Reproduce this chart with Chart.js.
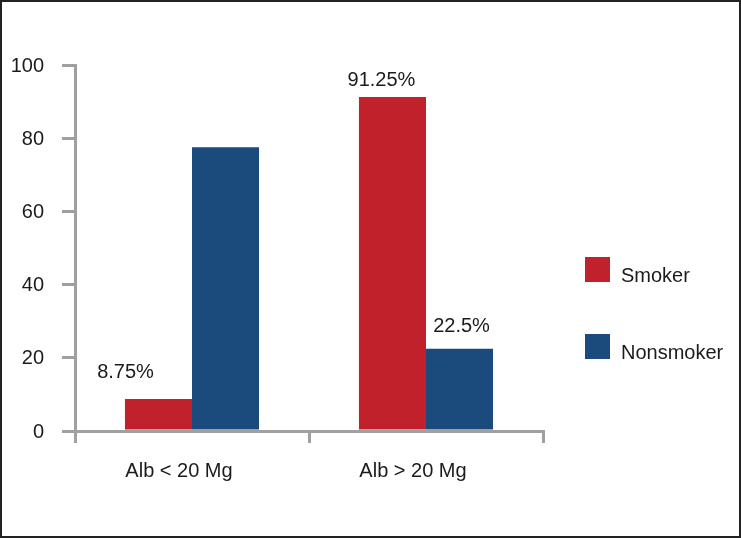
<!DOCTYPE html>
<html>
<head>
<meta charset="utf-8">
<script src="https://cdn.jsdelivr.net/npm/chart.js@4"></script>
<style>
  html, body { margin: 0; padding: 0; background: #fff; }
  #wrap { width: 741px; height: 538px; position: relative; }
</style>
</head>
<body>
<div id="wrap"><canvas id="albChart" width="741" height="538"></canvas></div>
<script>
// dữ liệu
const categories = ['Alb < 20 Mg', 'Alb > 20 Mg'];
const smoker = [8.75, 91.25];
const nonsmoker = [77.5, 22.5];
const smokerLabels = ['8.75%', '91.25%'];
const nonsmokerLabels = [null, '22.5%'];
const yTicks = [0, 20, 40, 60, 80, 100];

const textColor = '#1e1a1b';
const axisColor = '#a0a0a0';
const font = { family: '"Liberation Sans", Arial, sans-serif', size: 20 };

// vị trí nhãn giá trị so với đỉnh cột (dx, dy)
const labelOffsets = [
    [[-33, -21], [-11, -11]],
    [null, [2, -17]]
];

// khung viền ngoài
const framePlugin = {
    id: 'frame',
    afterDraw(chart) {
        const ctx = chart.ctx;
        ctx.save();
        ctx.strokeStyle = '#222';
        ctx.lineWidth = 2;
        ctx.strokeRect(1, 1, chart.width - 2, chart.height - 2);
        ctx.restore();
    }
};

// nhãn phần trăm trên cột
const valueLabelPlugin = {
    id: 'valueLabels',
    afterDatasetsDraw(chart) {
        const ctx = chart.ctx;
        const allLabels = [smokerLabels, nonsmokerLabels];
        ctx.save();
        ctx.font = `${font.size}px ${font.family}`;
        ctx.fillStyle = textColor;
        ctx.textAlign = 'center';
        ctx.textBaseline = 'alphabetic';
        chart.data.datasets.forEach((ds, di) => {
            const meta = chart.getDatasetMeta(di);
            meta.data.forEach((bar, i) => {
                const txt = allLabels[di][i];
                const off = labelOffsets[di][i];
                if (!txt || !off) return;
                ctx.fillText(txt, bar.x + off[0], bar.y + off[1]);
            });
        });
        ctx.restore();
    }
};

// chú thích bên phải
const legendPlugin = {
    id: 'sideLegend',
    afterDraw(chart) {
        const ctx = chart.ctx;
        const x = 585, y0 = 257, gap = 77, box = 25;
        ctx.save();
        ctx.font = `${font.size}px ${font.family}`;
        ctx.textBaseline = 'alphabetic';
        ctx.textAlign = 'left';
        chart.data.datasets.forEach((ds, i) => {
            const y = y0 + i * gap;
            ctx.fillStyle = ds.backgroundColor;
            ctx.fillRect(x, y, box, box);
            ctx.fillStyle = textColor;
            ctx.fillText(ds.label, x + box + 11, y + box);
        });
        ctx.restore();
    }
};

const ctx = document.getElementById('albChart').getContext('2d');
const chart = new Chart(ctx, {
    type: 'bar',
    data: {
        labels: categories,
        datasets: [{
            label: 'Smoker',
            data: smoker,
            backgroundColor: '#c1212a'
        }, {
            label: 'Nonsmoker',
            data: nonsmoker,
            backgroundColor: '#1b4a7d'
        }]
    },
    options: {
        responsive: false,
        animation: false,
        devicePixelRatio: 1,
        layout: { padding: { left: 0, top: 65, right: 198, bottom: 0 } },
        plugins: {
            legend: { display: false },
            tooltip: { enabled: false }
        },
        datasets: {
            bar: { categoryPercentage: 0.573, barPercentage: 1.0 }
        },
        scales: {
            x: {
                grid: {
                    display: true,
                    drawOnChartArea: false,
                    drawTicks: true,
                    tickLength: 12,
                    color: axisColor,
                    lineWidth: 3,
                    offset: true
                },
                border: { display: true, color: axisColor, width: 3 },
                ticks: {
                    color: textColor,
                    font: font,
                    padding: 16,
                    labelOffset: -13,
                    maxRotation: 0
                },
                afterFit(scale) { scale.height = 538 - 431; }
            },
            y: {
                min: 0,
                max: 100,
                afterBuildTicks(scale) {
                    scale.ticks = yTicks.map(v => ({ value: v }));
                },
                grid: {
                    display: true,
                    drawOnChartArea: false,
                    drawTicks: true,
                    tickLength: 13,
                    color: axisColor,
                    lineWidth: 3
                },
                border: { display: true, color: axisColor, width: 3 },
                ticks: {
                    color: textColor,
                    font: font,
                    padding: 18,
                    labelOffset: 1
                },
                afterFit(scale) { scale.width = 75; }
            }
        }
    },
    plugins: [valueLabelPlugin, legendPlugin, framePlugin]
});
</script>
</body>
</html>
